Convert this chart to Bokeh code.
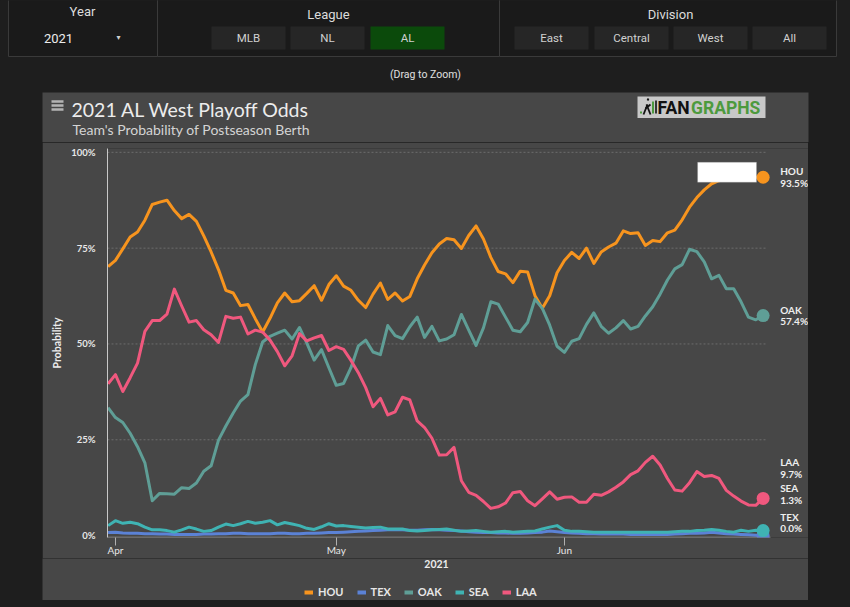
import datetime as dt
from bokeh.plotting import figure
from bokeh.models import (Range1d, FixedTicker, DatetimeTickFormatter, PrintfTickFormatter,
                          Legend, LegendItem, Label, BoxAnnotation, Spacer, GlobalInlineStyleSheet)
from bokeh.layouts import column, row
from bokeh.core.properties import value
from bokeh.embed import file_html
from bokeh.resources import INLINE

# ---------------- data ----------------
start_day = dt.datetime(2021, 3, 31)
dates = [start_day + dt.timedelta(days=i) for i in range(90)]

teams = ["HOU", "TEX", "OAK", "SEA", "LAA"]
colors = {"HOU": "#f7941e", "TEX": "#5b82d6", "OAK": "#5f9e96", "SEA": "#3fb3b3", "LAA": "#f0587e"}

HOU = [70.2, 71.8, 74.8, 77.9, 79.2, 82.3, 86.4, 87.0, 87.5, 84.8,
       82.7, 83.8, 82.0, 78.2, 74.0, 69.4, 64.0, 63.3, 60.0, 60.3,
       56.6, 53.1, 56.7, 60.7, 63.3, 61.0, 61.3, 63.2, 65.2, 61.4,
       65.5, 67.8, 65.1, 64.0, 61.4, 59.5, 63.0, 65.9, 61.6, 63.3,
       61.2, 62.4, 67.0, 70.6, 73.8, 76.1, 77.5, 77.2, 74.9, 78.3,
       80.8, 77.4, 72.6, 68.9, 68.3, 66.0, 69.0, 68.8, 62.6, 59.3,
       62.6, 68.6, 71.8, 73.9, 72.3, 75.0, 71.0, 74.0, 75.3, 76.3,
       79.5, 78.8, 79.0, 75.7, 77.0, 76.7, 79.0, 79.7, 82.4, 85.7,
       88.2, 90.2, 91.8, 92.6, 93.0, 93.2, 93.3, 93.4, 93.5, 93.5]

TEX = [0.8, 0.9, 0.7, 0.6, 0.6, 0.5, 0.5, 0.4, 0.4, 0.3,
       0.3, 0.3, 0.3, 0.4, 0.4, 0.5, 0.5, 0.6, 0.6, 0.5,
       0.5, 0.5, 0.5, 0.6, 0.6, 0.5, 0.5, 0.6, 0.6, 0.7,
       0.8, 0.8, 0.9, 1.0, 1.1, 1.2, 1.3, 1.4, 1.5, 1.6,
       1.5, 1.4, 1.4, 1.5, 1.6, 1.5, 1.4, 1.3, 1.2, 1.0,
       0.9, 0.8, 0.8, 0.7, 0.7, 0.6, 0.6, 0.7, 0.8, 0.9,
       1.2, 1.0, 0.8, 0.7, 0.6, 0.5, 0.5, 0.4, 0.4, 0.4,
       0.4, 0.3, 0.3, 0.3, 0.3, 0.3, 0.3, 0.4, 0.5, 0.6,
       0.6, 0.7, 0.9, 0.7, 0.5, 0.4, 0.3, 0.2, 0.1, 0.0]

OAK = [33.4, 30.8, 29.5, 26.7, 23.2, 19.0, 9.1, 11.0, 10.9, 10.8,
       12.5, 12.3, 13.7, 16.8, 18.2, 24.9, 28.6, 32.0, 35.1, 36.8,
       44.6, 50.5, 52.0, 52.8, 53.6, 51.3, 54.3, 50.2, 45.8, 48.5,
       43.8, 39.2, 39.7, 43.8, 49.5, 51.0, 47.9, 47.2, 54.8, 52.2,
       51.4, 54.5, 57.0, 51.7, 54.6, 50.8, 51.3, 52.4, 57.7, 53.6,
       49.6, 54.2, 61.0, 60.4, 57.0, 53.6, 53.2, 55.6, 61.7, 59.3,
       54.9, 49.4, 47.8, 50.7, 51.4, 55.1, 58.1, 54.6, 52.8, 54.2,
       56.1, 53.9, 54.6, 57.3, 59.7, 63.0, 66.7, 69.6, 70.7, 74.7,
       74.1, 71.4, 67.0, 67.9, 64.4, 64.4, 61.0, 57.0, 56.3, 57.4]

SEA = [2.6, 3.9, 3.2, 3.5, 3.1, 2.2, 1.5, 1.5, 1.3, 0.9,
       1.5, 2.2, 1.7, 1.1, 1.3, 2.2, 3.0, 2.6, 3.1, 3.7,
       3.2, 3.5, 3.9, 2.8, 3.4, 3.0, 2.6, 1.9, 1.6, 2.3,
       3.1, 2.5, 2.6, 2.4, 2.2, 2.0, 2.1, 2.2, 1.7, 1.7,
       1.7, 1.3, 1.2, 1.3, 1.5, 1.6, 1.7, 1.4, 1.1, 1.2,
       1.3, 1.1, 0.9, 1.0, 1.1, 0.9, 1.0, 1.1, 1.2, 1.7,
       2.2, 2.6, 1.4, 1.1, 1.1, 1.0, 0.9, 0.9, 0.9, 0.9,
       0.9, 0.9, 0.9, 0.9, 0.9, 0.9, 0.9, 1.0, 1.1, 1.1,
       1.3, 1.4, 1.6, 1.4, 1.1, 0.9, 1.4, 1.1, 1.4, 1.3]

LAA = [39.6, 42.0, 37.6, 41.2, 45.0, 53.3, 56.1, 56.1, 57.8, 64.3,
       59.9, 55.7, 56.1, 53.7, 52.4, 50.4, 57.2, 56.7, 57.0, 52.6,
       53.6, 53.1, 51.0, 48.0, 44.3, 46.9, 52.7, 50.8, 51.6, 52.2,
       48.3, 49.3, 48.6, 45.7, 42.5, 38.6, 33.6, 35.8, 31.5, 32.3,
       36.1, 35.4, 29.9, 28.2, 25.4, 21.0, 21.1, 23.0, 14.3, 11.3,
       10.5, 8.9, 7.1, 7.5, 8.5, 11.2, 11.5, 9.1, 7.8, 9.6,
       11.4, 9.5, 10.0, 10.1, 8.7, 8.7, 10.8, 10.5, 11.4, 12.6,
       14.0, 15.9, 16.9, 19.1, 20.7, 18.4, 14.9, 11.9, 11.6, 13.8,
       16.7, 15.4, 15.7, 14.9, 11.8, 10.3, 9.0, 8.0, 7.9, 9.7]

series = {"HOU": HOU, "TEX": TEX, "OAK": OAK, "SEA": SEA, "LAA": LAA}
final_pct = {"HOU": 93.5, "TEX": 0.0, "OAK": 57.4, "SEA": 1.3, "LAA": 9.7}

month_ticks = [dt.datetime(2021, 4, 1), dt.datetime(2021, 5, 1), dt.datetime(2021, 6, 1)]
y_ticks = [0, 25, 50, 75, 100]
x_title = "2021"

title_text = "2021 AL West Playoff Odds"
subtitle_text = "Team's Probability of Postseason Berth"

# ---------------- style ----------------
PAGE_BG = "#1e1e1e"
PANEL_BG = "#474747"
FONT = "Lato"
NARROW = "'Liberation Sans Narrow', Roboto, sans-serif"
EPOCH = dt.datetime(1970, 1, 1)
DAY_MS = 86400000.0


def ms(d):
    return (d - EPOCH).total_seconds() * 1000.0


def bare(fig):
    fig.xaxis.visible = False
    fig.yaxis.visible = False
    fig.xgrid.visible = False
    fig.ygrid.visible = False
    fig.outline_line_color = None
    return fig


# ---------------- top strip: controls + panel header (page pixel coordinates) ----------------
top = figure(width=850, height=142, x_range=Range1d(0, 850), y_range=Range1d(142, 0),
             toolbar_location=None, output_backend="svg", min_border=0,
             background_fill_color=PAGE_BG, border_fill_color=PAGE_BG)
bare(top)
top.quad(left=[8, 157, 499], right=[157, 499, 836], top=[-5, -5, -5], bottom=[56, 56, 56],
         fill_color="#1a1a1a", line_color="#3a3a3a", line_width=1)
btn_labels = ["MLB", "NL", "AL", "East", "Central", "West", "All"]
btn_x = [248, 327, 407, 551, 631, 710, 789]
btn_fill = ["#262626", "#262626", "#0b4a0b", "#262626", "#262626", "#262626", "#262626"]
top.rect(x=btn_x, y=[37.5] * 7, width=[74] * 7, height=[23] * 7, fill_color=btn_fill, line_color=None)
top.text(x=btn_x, y=[37.5] * 7, text=btn_labels, text_align="center", text_baseline="middle",
         text_font=value(NARROW), text_font_size="11.5px", text_color="#d0d0d0")
top.text(x=[82, 328, 670], y=[11, 14, 14], text=["Year", "League", "Division"], text_align="center",
         text_baseline="middle", text_font=value(NARROW), text_font_size="13px", text_color="#dcdcdc")
top.text(x=[58], y=[38], text=["2021"], text_align="center", text_baseline="middle",
         text_font=value(NARROW), text_font_size="13px", text_color="#ececec")
top.text(x=[118], y=[37], text=["▾"], text_align="center", text_baseline="middle",
         text_font=value("DejaVu Sans"), text_font_size="8px", text_color="#cfcfcf")
top.text(x=[425], y=[74], text=["(Drag to Zoom)"], text_align="center", text_baseline="middle",
         text_font=value(NARROW), text_font_size="10.5px", text_color="#e0e0e0")

# chart panel header
top.quad(left=[42], right=[808], top=[92], bottom=[143], fill_color=PANEL_BG, line_color=None)
top.segment(x0=[51, 51, 51], x1=[63, 63, 63], y0=[101, 105, 109], y1=[101, 105, 109],
            line_color="#b4b4b4", line_width=2.5)
top.text(x=[71], y=[108.5], text=[title_text], text_baseline="middle", text_font=value(FONT),
         text_font_size="19.5px", text_color="#ececec")
top.text(x=[72], y=[128.5], text=[subtitle_text], text_baseline="middle", text_font=value(FONT),
         text_font_size="14px", text_color="#d4d4d4")
# FanGraphs logo
top.quad(left=[637], right=[765], top=[96], bottom=[117.5], fill_color="#c8c8c8", line_color=None)
top.text(x=[657], y=[107.5], text=["FAN"], text_baseline="middle", text_font=value("Roboto"),
         text_font_style="bold", text_font_size="17.5px", text_color="#111111")
top.text(x=[690.5], y=[107.5], text=["GRAPHS"], text_baseline="middle", text_font=value("Roboto"),
         text_font_style="bold", text_font_size="17.5px", text_color="#4d9a3e")
top.rect(x=[640.5, 652.5], y=[112, 107], width=[2, 2], height=[2, 12], fill_color="#4d9a3e", line_color=None)
top.segment(x0=[643, 646, 645, 647], x1=[647, 650, 650, 648], y0=[114, 104, 108, 100], y1=[104, 114, 104, 98],
            line_color="#111111", line_width=1.8)
top.rect(x=[655.5], y=[106.5], width=[1.6], height=[13], fill_color="#111111", line_color=None)

# ---------------- main chart ----------------
x_start = ms(start_day) - 0.08 * DAY_MS
x_end = x_start + (701 / 7.36) * DAY_MS          # frame runs to the panel's right edge
last_x = ms(dates[-1])
p = figure(width=766, height=416, x_axis_type="datetime",
           x_range=Range1d(x_start, x_end), y_range=Range1d(-0.5, 101),
           toolbar_location=None, output_backend="svg",
           min_border_left=65, min_border_right=0, min_border_top=6, min_border_bottom=21,
           background_fill_color=PANEL_BG, border_fill_color=PANEL_BG)
p.outline_line_color = None

# dotted horizontal grid lines, ending just after the last day
p.xgrid.visible = False
p.ygrid.visible = False
grid_vals = [v for v in y_ticks if v > 0]
p.segment(x0=[x_start] * len(grid_vals), x1=[last_x + 0.6 * DAY_MS] * len(grid_vals),
          y0=grid_vals, y1=grid_vals, line_color="#6c6c6c", line_dash="2 2", line_width=1)
# x baseline
p.segment(x0=[x_start], x1=[last_x + 1.0 * DAY_MS], y0=[-0.5], y1=[-0.5], line_color="#9a9a9a", line_width=1.5)

renderers = {}
for team in teams:
    renderers[team] = p.line(dates, series[team], line_color=colors[team], line_width=3, line_join="round")
for team in teams:
    p.scatter([dates[-1]], [series[team][-1]], size=13, fill_color=colors[team], line_color=None)

# y axis
p.yaxis.ticker = FixedTicker(ticks=y_ticks)
p.yaxis.formatter = PrintfTickFormatter(format="%d%%")
p.yaxis.major_tick_out = 0
p.yaxis.major_tick_in = 0
p.yaxis.minor_tick_out = 0
p.yaxis.minor_tick_in = 0
p.yaxis.major_label_standoff = 12
p.yaxis.axis_line_color = "#c8c8c8"
p.yaxis.major_label_text_color = "#e8e8e8"
p.yaxis.major_label_text_font = FONT
p.yaxis.major_label_text_font_style = "bold"
p.yaxis.major_label_text_font_size = "9.5px"
p.yaxis.axis_label = "Probability"
p.yaxis.axis_label_text_font = FONT
p.yaxis.axis_label_text_font_style = "bold"
p.yaxis.axis_label_text_font_size = "10.5px"
p.yaxis.axis_label_text_color = "#ececec"
p.yaxis.axis_label_standoff = 5

# x axis
p.xaxis.ticker = FixedTicker(ticks=[ms(d) for d in month_ticks])
p.xaxis.formatter = DatetimeTickFormatter(days="%b", months="%b", years="%b", hours="%b",
                                          minutes="%b", seconds="%b", milliseconds="%b",
                                          microseconds="%b", minsec="%b", hourmin="%b")
p.xaxis.major_tick_out = 8
p.xaxis.major_tick_in = 0
p.xaxis.minor_tick_out = 0
p.xaxis.minor_tick_in = 0
p.xaxis.major_tick_line_color = "#b0b0b0"
p.xaxis.axis_line_color = None
p.xaxis.major_label_standoff = -2
p.xaxis.major_label_text_color = "#e8e8e8"
p.xaxis.major_label_text_font = FONT
p.xaxis.major_label_text_font_size = "10px"

# end labels (team name + final probability), stacked where the ends crowd together
label_shift = {"HOU": 0, "OAK": 0, "LAA": 30, "SEA": 36.5, "TEX": 13}
for team in teams:
    yv = series[team][-1]
    for txt, dy in [(team, 6), (f"{final_pct[team]:.1f}%", -5.5)]:
        p.add_layout(Label(x=last_x, y=yv, x_offset=17, y_offset=label_shift[team] + dy, text=txt,
                           text_align="left", text_baseline="middle", text_font=FONT,
                           text_font_style="bold", text_font_size="10px", text_color="#eeeeee"))

# blank tooltip box near the HOU endpoint
p.add_layout(BoxAnnotation(left=last_x - 8.9 * DAY_MS, right=last_x - 0.9 * DAY_MS,
                           top=HOU[-1] + 3.9, bottom=HOU[-1] - 1.3,
                           fill_color="#ffffff", fill_alpha=1.0, line_color="#9a9a9a", line_width=1))

# ---------------- footer of the panel: x-axis title and legend (page x, y offset 558) ----------------
foot = figure(width=766, height=42, x_range=Range1d(42, 808), y_range=Range1d(42, 0),
              toolbar_location=None, output_backend="svg", min_border=0,
              background_fill_color=PANEL_BG, border_fill_color=PANEL_BG)
bare(foot)
foot.text(x=[436], y=[5.5], text=[x_title], text_align="center", text_baseline="middle",
          text_font=value(FONT), text_font_style="bold", text_font_size="10.5px", text_color="#ececec")
# legend swatches (off-canvas stand-ins carrying each team's line style)
leg_renderers = [foot.line(x=[-100, -99], y=[-100, -100], line_color=colors[t], line_width=4) for t in teams]
legend = Legend(items=[LegendItem(label=t, renderers=[r]) for t, r in zip(teams, leg_renderers)],
                orientation="horizontal", location=(260, 0),
                label_text_font=FONT, label_text_font_size="11px", label_text_font_style="bold",
                label_text_color="#e6e6e6", glyph_width=9, glyph_height=10, label_standoff=5,
                spacing=13, padding=2, margin=0, background_fill_alpha=0, border_line_alpha=0)
foot.add_layout(legend)

page_css = GlobalInlineStyleSheet(css="html, body { background-color: #1e1e1e !important; }")
layout = column(top,
                row(Spacer(width=42, height=416), p, Spacer(width=42, height=416)),
                row(Spacer(width=42, height=42), foot, Spacer(width=42, height=42)),
                stylesheets=[page_css])

open("out.html", "w").write(file_html(layout, INLINE))
